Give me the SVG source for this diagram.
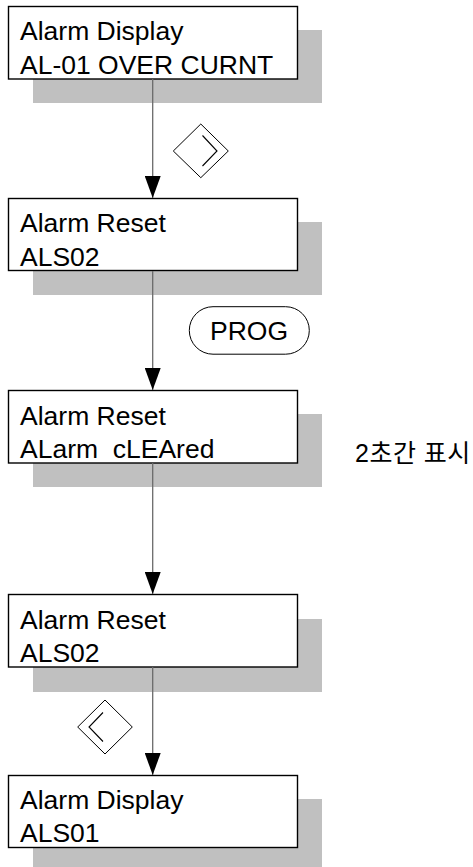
<svg xmlns="http://www.w3.org/2000/svg" width="473" height="867" viewBox="0 0 473 867">
<style>
.shadow{fill:#c0c0c0;stroke:none}
.box{fill:#fff;stroke:#000;stroke-width:1.4}
.t{font-family:"Liberation Sans",Arial,sans-serif;font-size:26.5px;fill:#000;white-space:pre}
.k{font-family:"Liberation Sans","Noto Sans CJK KR",sans-serif;font-size:25px;fill:#000;letter-spacing:0.5px;white-space:pre}
.conn{stroke:#6a6a6a;stroke-width:1.3;fill:none}
.key{fill:#fff;stroke:#000;stroke-width:1}
.chev{fill:none;stroke:#000;stroke-width:1.1}
</style>
<defs>
<marker id="arr" markerUnits="userSpaceOnUse" markerWidth="22" markerHeight="16" refX="22" refY="8" orient="auto" viewBox="0 0 22 16">
<path d="M0,0 L22,8 L0,16 Z" fill="#000"/>
</marker>
</defs>
<rect width="473" height="867" fill="#fff"/>
<g id="n1">
<rect class="shadow" x="33" y="30" width="289" height="73"/>
<rect class="box" x="8.5" y="6.5" width="289" height="72.5"/>
<text class="t" x="20" y="40">Alarm Display</text>
<text class="t" x="20" y="74">AL-01 OVER CURNT</text>
</g>
<g id="n2">
<rect class="shadow" x="33" y="222" width="289" height="73"/>
<rect class="box" x="8.5" y="198.5" width="289" height="72"/>
<text class="t" x="20" y="232">Alarm Reset</text>
<text class="t" x="20" y="266">ALS02</text>
</g>
<g id="n3">
<rect class="shadow" x="33" y="414" width="289" height="73"/>
<rect class="box" x="8.5" y="390.5" width="289" height="72.5"/>
<text class="t" x="20" y="425">Alarm Reset</text>
<text class="t" x="20" y="458" xml:space="preserve">ALarm  cLEAred</text>
</g>
<g id="n4">
<rect class="shadow" x="33" y="619" width="289" height="73"/>
<rect class="box" x="8.5" y="594.5" width="289" height="72.5"/>
<text class="t" x="20" y="629">Alarm Reset</text>
<text class="t" x="20" y="662">ALS02</text>
</g>
<g id="n5">
<rect class="shadow" x="33" y="799" width="289" height="73"/>
<rect class="box" x="8.5" y="775.5" width="289" height="72"/>
<text class="t" x="20" y="809">Alarm Display</text>
<text class="t" x="20" y="842">ALS01</text>
</g>
<g id="note">
<text class="k" x="355" y="462" xml:space="preserve">2초간 표시</text>
</g>
<g id="connectors">
<line class="conn" x1="152.7" y1="79" x2="152.7" y2="198" marker-end="url(#arr)"/>
<line class="conn" x1="152.7" y1="271" x2="152.7" y2="390" marker-end="url(#arr)"/>
<line class="conn" x1="152.7" y1="463" x2="152.7" y2="594" marker-end="url(#arr)"/>
<line class="conn" x1="152.7" y1="667" x2="152.7" y2="775" marker-end="url(#arr)"/>
</g>
<g id="key-right">
<path class="key" d="M200.8,124 L228.3,151 L200.8,177.7 L173.3,151 Z"/>
<path class="chev" d="M202.5,135.5 L217,151 L202.5,166"/>
</g>
<g id="key-prog">
<rect class="key" x="189.3" y="306.7" width="120" height="47.5" rx="23.7" ry="23.7"/>
<text class="t" x="249" y="340" text-anchor="middle">PROG</text>
</g>
<g id="key-left">
<path class="key" d="M105,700 L132.3,727 L105,754 L77.7,727 Z"/>
<path class="chev" d="M103,712.5 L89,727 L103,741.5"/>
</g>
</svg>
